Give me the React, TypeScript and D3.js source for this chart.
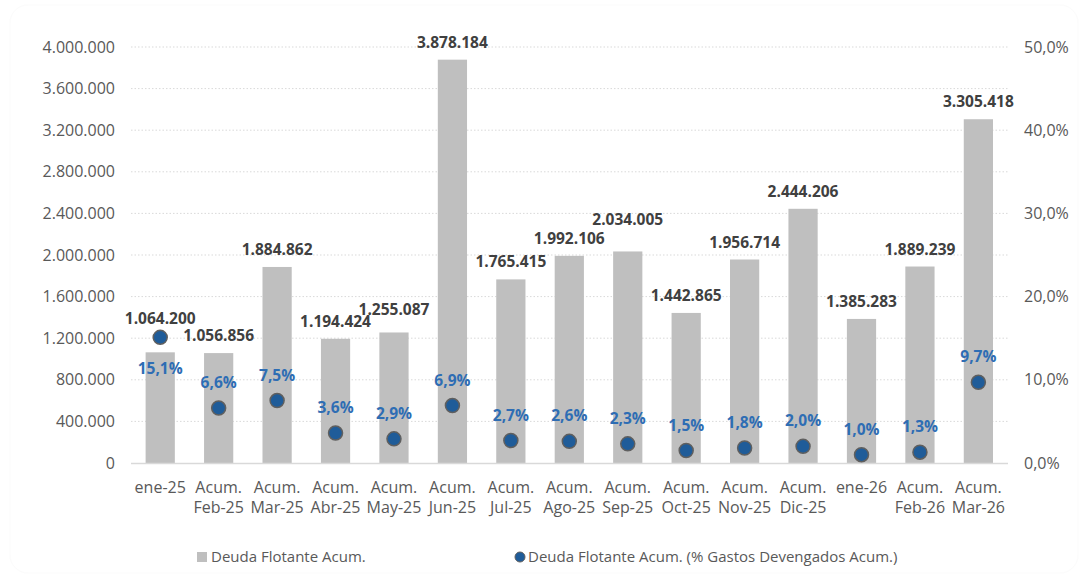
import React from "react";
import * as d3 from "d3";

const categories: string[][] = [
  ["ene-25"],
  ["Acum.", "Feb-25"],
  ["Acum.", "Mar-25"],
  ["Acum.", "Abr-25"],
  ["Acum.", "May-25"],
  ["Acum.", "Jun-25"],
  ["Acum.", "Jul-25"],
  ["Acum.", "Ago-25"],
  ["Acum.", "Sep-25"],
  ["Acum.", "Oct-25"],
  ["Acum.", "Nov-25"],
  ["Acum.", "Dic-25"],
  ["ene-26"],
  ["Acum.", "Feb-26"],
  ["Acum.", "Mar-26"],
];

const deudaValues: number[] = [
  1064200, 1056856, 1884862, 1194424, 1255087, 3878184, 1765415, 1992106,
  2034005, 1442865, 1956714, 2444206, 1385283, 1889239, 3305418,
];

const pctValues: number[] = [
  15.1, 6.6, 7.5, 3.6, 2.9, 6.9, 2.7, 2.6, 2.3, 1.5, 1.8, 2.0, 1.0, 1.3, 9.7,
];

const leftTicks: number[] = [0, 400000, 800000, 1200000, 1600000, 2000000, 2400000, 2800000, 3200000, 3600000, 4000000];
const rightTicks: number[] = [0, 10, 20, 30, 40, 50];

const seriesNames = ["Deuda Flotante Acum.", "Deuda Flotante Acum. (% Gastos Devengados Acum.)"];

// label layout nudges (px), not data
const barLabelLift = [16, 0, 0, 0, 5, 0, 0, 0, 14, 0, 0, 0, 0, 0, 0];
const pctBelow = [true, false, false, false, false, false, false, false, false, false, false, false, false, false, false];

const W = 1083;
const H = 578;
const FONT = "'Open Sans', 'Noto Sans', sans-serif";

const fmtThousands = (v: number) =>
  d3.format(",.0f")(v).replace(/,/g, ".");
const fmtPct1 = (v: number) => d3.format(".1f")(v).replace(".", ",") + "%";

export default function App() {
  const keys = categories.map((c) => c.join(" "));
  const x = d3
    .scaleBand<string>()
    .domain(keys)
    .range([131, 1007.6])
    .paddingInner(0.5)
    .paddingOuter(0.25);
  const y = d3.scaleLinear().domain([0, 4000000]).range([463, 47]);
  const y2 = d3.scaleLinear().domain([0, 50]).range([463, 47]);
  const bw = x.bandwidth();

  return (
    <svg
      width={W}
      height={H}
      style={{ position: "absolute", left: 0, top: 0, background: "#fff" }}
      fontFamily={FONT}
    >
      <rect x={10} y={5} width={1068} height={568} rx={18} fill="none" stroke="#fbfbfb" strokeWidth={1} />
      {/* gridlines */}
      {leftTicks.slice(1).map((t) => (
        <line
          key={"g" + t}
          x1={131}
          x2={1008}
          y1={y(t)}
          y2={y(t)}
          stroke="#d9d9d9"
          strokeWidth={1}
          strokeDasharray="1.5 2"
        />
      ))}
      {/* left ticks */}
      {leftTicks.map((t) => (
        <text
          key={"l" + t}
          x={115}
          y={y(t)}
          dy="0.35em"
          textAnchor="end"
          fontSize={16}
          fill="#595959"
        >
          {fmtThousands(t)}
        </text>
      ))}
      {/* right ticks */}
      {rightTicks.map((t) => (
        <text
          key={"r" + t}
          x={1024}
          y={y2(t)}
          dy="0.35em"
          textAnchor="start"
          fontSize={16}
          fill="#595959"
        >
          {fmtPct1(t)}
        </text>
      ))}
      {/* bars */}
      {deudaValues.map((v, i) => (
        <rect
          key={"b" + i}
          x={x(keys[i])!}
          y={y(v)}
          width={bw}
          height={y(0) - y(v)}
          fill="#bfbfbf"
        />
      ))}
      {/* axis line */}
      <line x1={131} x2={1008} y1={463.5} y2={463.5} stroke="#d9d9d9" strokeWidth={1.5} />
      {/* x labels */}
      {categories.map((c, i) => (
        <text
          key={"x" + i}
          x={x(keys[i])! + bw / 2}
          textAnchor="middle"
          fontSize={16}
          fill="#595959"
        >
          {c.map((line, j) => (
            <tspan key={j} x={x(keys[i])! + bw / 2} y={493 + j * 20}>
              {line}
            </tspan>
          ))}
        </text>
      ))}
      {/* bar labels */}
      {deudaValues.map((v, i) => (
        <text
          key={"bl" + i}
          x={x(keys[i])! + bw / 2}
          y={y(v) - 12 - barLabelLift[i]}
          textAnchor="middle"
          fontSize={15.5}
          fontWeight="bold"
          fill="#404040"
        >
          {fmtThousands(v)}
        </text>
      ))}
      {/* dots */}
      {pctValues.map((p, i) => (
        <circle
          key={"d" + i}
          cx={x(keys[i])! + bw / 2}
          cy={y2(p)}
          r={7}
          fill="#1f5c99"
          stroke="#5f5f5f"
          strokeWidth={1.5}
        />
      ))}
      {/* pct labels */}
      {pctValues.map((p, i) => (
        <text
          key={"pl" + i}
          x={x(keys[i])! + bw / 2}
          y={pctBelow[i] ? y2(p) + 37 : y2(p) - 20}
          textAnchor="middle"
          fontSize={15.5}
          fontWeight="bold"
          fill="#2e6db4"
        >
          {fmtPct1(p)}
        </text>
      ))}
      {/* legend */}
      <rect x={197} y={552} width={10} height={10} fill="#bfbfbf" />
      <text x={211} y={557} dy="0.35em" fontSize={15} fill="#595959">
        {seriesNames[0]}
      </text>
      <circle cx={520} cy={557} r={5} fill="#1f5c99" stroke="#5f5f5f" strokeWidth={1} />
      <text x={528} y={557} dy="0.35em" fontSize={15} fill="#595959">
        {seriesNames[1]}
      </text>
    </svg>
  );
}
